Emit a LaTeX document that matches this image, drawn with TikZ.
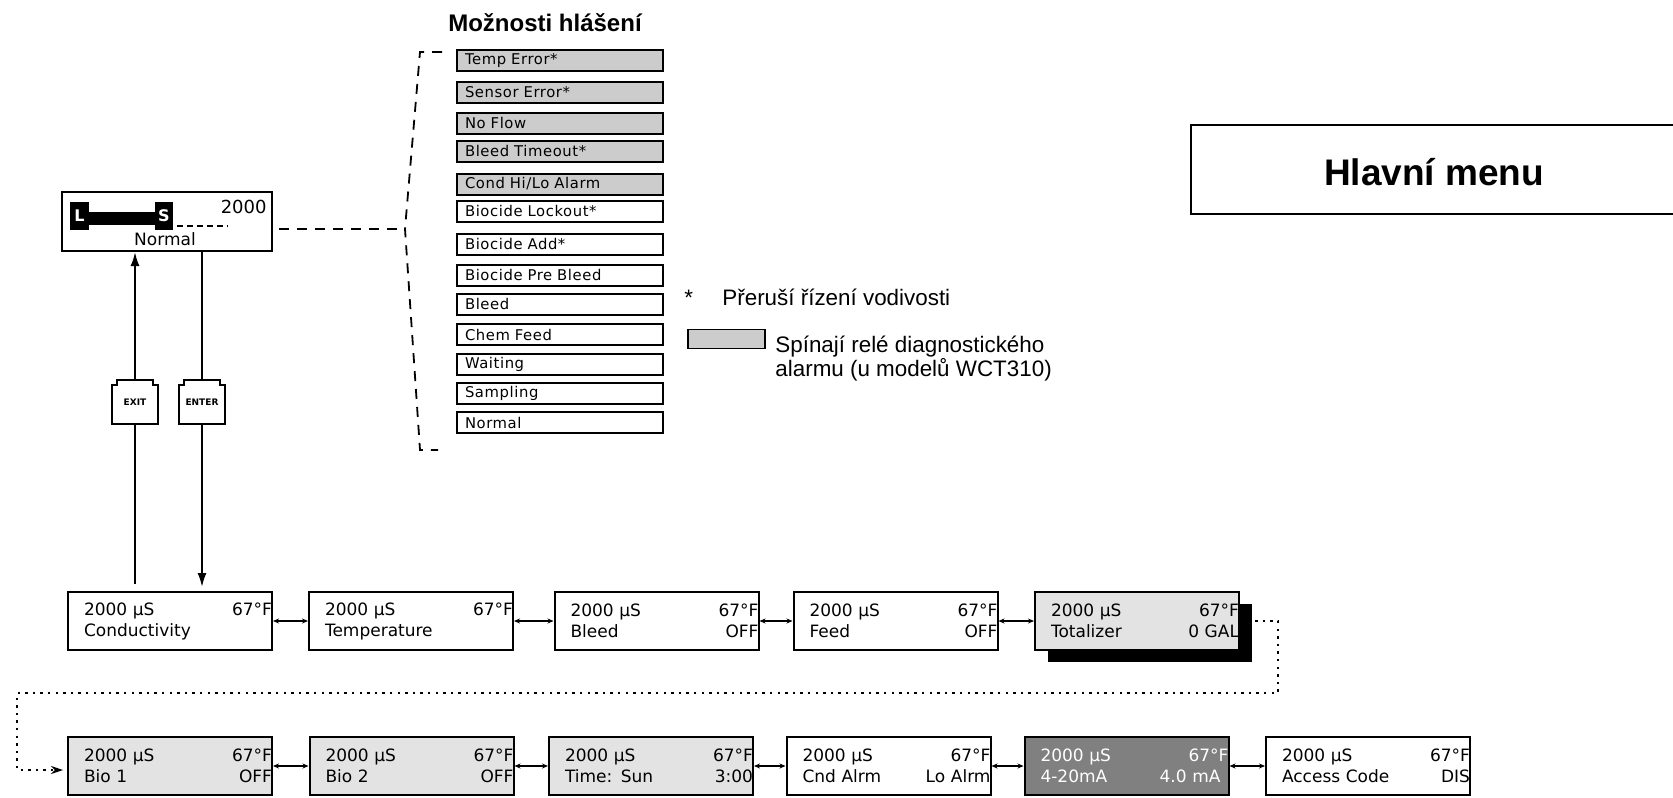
\documentclass[tikz,border=0pt]{standalone}
\usepackage{fontspec}
\setmainfont{Liberation Sans}
\newfontfamily\lcdfont{DejaVu Sans}
\newfontfamily\msgfont[LetterSpace=4]{DejaVu Sans}
\usetikzlibrary{arrows.meta,positioning,calc,shadows}

\definecolor{alarmgray}{gray}{0.80}
\definecolor{panelgray}{gray}{0.89}
\definecolor{darkpanel}{gray}{0.50}

% two lines of a display, each with a left and a right part
\newcommand{\lcdtext}[4]{\hspace*{8pt}#1\hfill#2\hspace*{4pt}\\\hspace*{8pt}#3\hfill#4\hspace*{4pt}}

\tikzset{
  msg/.style={draw, line width=1pt, anchor=west, minimum height=10.5pt,
    inner xsep=4pt, inner ysep=0pt, text width=95pt, align=left,
    font=\msgfont\fontsize{7.4}{8}\selectfont},
  lcd/.style={draw, line width=1pt, minimum height=29pt, inner sep=0pt,
    text width=102pt, align=left, font=\lcdfont\fontsize{8.5}{10.5}\selectfont},
  keycap/.style={fill=white, minimum width=23pt, minimum height=22pt, inner sep=0pt,
    font=\lcdfont\bfseries\fontsize{4.5}{5}\selectfont},
  link/.style={line width=1pt, {Stealth[length=3pt,width=2.5pt]}-{Stealth[length=3pt,width=2.5pt]}},
  bracket/.style={line width=0.9pt, dash pattern=on 5pt off 4pt},
  wrapline/.style={line width=1.2pt, dash pattern=on 1.2pt off 2.6pt},
  feedline/.style={line width=1pt}
}

\begin{document}
\begin{tikzpicture}[x=0.5pt, y=-0.5pt]
\useasboundingbox (0,0) rectangle (1673,797);

% message list
\node[anchor=base, font=\bfseries\fontsize{12}{14}\selectfont] (title) at (545,32) {Možnosti hlášení};
\foreach \txt/\yy/\shade [count=\i] in {{Temp Error*}/61/alarmgray, {Sensor Error*}/92.5/alarmgray,
  {No Flow}/123/alarmgray, {Bleed Timeout*}/151/alarmgray, {Cond Hi/Lo Alarm}/184/alarmgray,
  {Biocide Lockout*}/211/white, {Biocide Add*}/244/white, {Biocide Pre Bleed}/275/white,
  {Bleed}/304/white, {Chem Feed}/334.5/white, {Waiting}/364.5/white,
  {Sampling}/393/white, {Normal}/422.5/white}
  \node[msg, fill=\shade] (msg\i) at (456,\yy) {\txt};

\coordinate (btop) at (420,52);
\coordinate (bmid) at (405,229);
\coordinate (bbot) at (420,450);
\draw[bracket] (442,52) -- (btop) -- (bmid) -- (bbot) -- (438,450);

% main display
\node[draw, line width=1pt, minimum width=105pt, minimum height=29.5pt, inner sep=0pt] (main) at (167,221.5) {};
\fill (70,202) rectangle (89,230);
\fill (89,212) rectangle (155,225);
\fill (155,202) rectangle (173,230);
\node[text=white, font=\lcdfont\bfseries\fontsize{8}{8}\selectfont] (lmark) at (79.5,216) {L};
\node[text=white, font=\lcdfont\bfseries\fontsize{8}{8}\selectfont] (smark) at (164,216) {S};
\draw[line width=0.8pt, dash pattern=on 3pt off 2pt] (smark.east |- 0,226) -- (227,226);
\node[anchor=base east, inner sep=0pt, font=\lcdfont\fontsize{9}{9}\selectfont] (mainval) at (267,213) {2000};
\node[anchor=base, inner sep=0pt, font=\lcdfont\fontsize{8.5}{8.5}\selectfont] (mainmsg) at (165,245) {Normal};
\draw[bracket, shorten <=3pt] (main.east |- bmid) -- (bmid);

% keys
\node[keycap] (exitkey) at (135,402) {EXIT};
\node[keycap] (enterkey) at (202,402) {ENTER};
\foreach \k in {exitkey,enterkey}
  \draw[line width=1pt] (\k.south west) -- ($(\k.north west)+(0,5)$) -- ++(5,0)
    -- ($(\k.north west)+(5,0)$) -- ($(\k.north east)+(-5,0)$) -- ++(0,5)
    -- ($(\k.north east)+(0,5)$) -- (\k.south east) -- cycle;

% main menu
\node[lcd] (cond) at (170,621) {\lcdtext{2000 µS}{67°F}{Conductivity}{}};
\node[lcd] (temp) at (411,621) {\lcdtext{2000 µS}{67°F}{Temperature}{}};
\node[lcd] (bleed) at (656.5,621) {\lcdtext{2000 µS}{67°F}{Bleed}{OFF}};
\node[lcd] (feed) at (895.5,621) {\lcdtext{2000 µS}{67°F}{Feed}{OFF}};
\node[lcd, fill=panelgray, drop shadow={shadow xshift=6.5pt, shadow yshift=-6pt, fill=black, opacity=1}] (total) at (1137,621) {\lcdtext{2000 µS}{67°F}{Totalizer}{0 GAL}};
\node[lcd, fill=panelgray] (bio1) at (170,766) {\lcdtext{2000 µS}{67°F}{Bio 1}{OFF}};
\node[lcd, fill=panelgray] (bio2) at (411.5,766) {\lcdtext{2000 µS}{67°F}{Bio 2}{OFF}};
\node[lcd, fill=panelgray] (clock) at (651,766) {\lcdtext{2000 µS}{67°F}{Time: Sun}{3:00}};
\node[lcd] (cndalrm) at (888.5,766) {\lcdtext{2000 µS}{67°F}{Cnd Alrm}{Lo Alrm}};
\node[lcd, fill=darkpanel, text=white] (analog) at (1126.5,766) {\lcdtext{2000 µS}{67°F}{4-20mA}{4.0 mA}};
\node[lcd] (access) at (1368,766) {\lcdtext{2000 µS}{67°F}{Access Code}{DIS}};

\foreach \a/\b in {cond/temp, temp/bleed, bleed/feed, feed/total,
  bio1/bio2, bio2/clock, clock/cndalrm, cndalrm/analog, analog/access}
  \draw[link] (\a) -- (\b);

% exit / enter
\draw[feedline, shorten >=3.5pt] (exitkey.south) -- (exitkey.south |- cond.north);
\draw[feedline, -{Latex[length=7pt,width=4.5pt]}] (exitkey.north) -- (exitkey.north |- main.south);
\draw[feedline] (main.south -| enterkey.north) -- (enterkey.north);
\draw[feedline, -{Latex[length=7pt,width=4.5pt]}, shorten >=2pt] (enterkey.south) -- (enterkey.south |- cond.north);

% wrap to second row
\coordinate (wrapA) at (1278,621);
\coordinate (wrapB) at (1278,693);
\coordinate (wrapC) at (17,693);
\coordinate (wrapD) at (17,770);
\draw[wrapline, -{Stealth[length=6pt,width=4pt]}, shorten >=2pt] (total.east) -- (wrapA) -- (wrapB) -- (wrapC) -- (wrapD) -- (wrapD -| bio1.west);

% legend
\node[anchor=base west, inner sep=0pt, font=\fontsize{11.2}{13}\selectfont] (star) at (684,305) {*};
\node[anchor=base west, inner sep=0pt, font=\fontsize{11.2}{13}\selectfont] (notecut) at (722,305) {Přeruší řízení vodivosti};
\node[draw, line width=0.8pt, fill=alarmgray, minimum width=38.5pt, minimum height=9.5pt, inner sep=0pt] (swatch) at (726.5,339) {};
\node[anchor=base west, inner sep=0pt, font=\fontsize{11.2}{13}\selectfont] (notealarm) at (775,352) {Spínají relé diagnostického};
\node[anchor=base west, inner sep=0pt, font=\fontsize{11.2}{13}\selectfont] (notemodel) at (775,376) {alarmu (u modelů WCT310)};

% title box
\node[draw, line width=1pt, anchor=north west, minimum width=260pt, minimum height=44.5pt] (menu) at (1190,124) {};
\node[font=\bfseries\fontsize{18.5}{20}\selectfont] (menutext) at (1434,172) {Hlavní menu};
\end{tikzpicture}
\end{document}
